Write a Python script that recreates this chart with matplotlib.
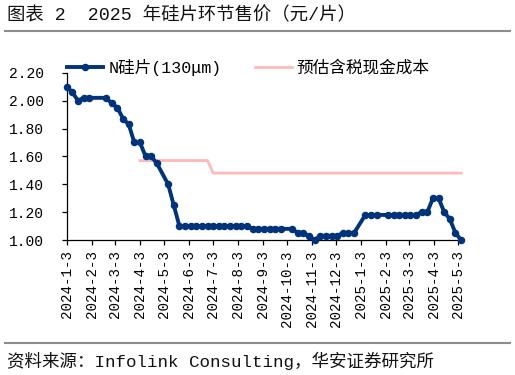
import matplotlib
matplotlib.use("Agg")
import matplotlib.pyplot as plt
from matplotlib.lines import Line2D
import pandas as pd

# ---------------- data ----------------
wafer_dates = [
    "2024-01-03", "2024-01-10", "2024-01-17", "2024-01-24", "2024-01-31",
    "2024-02-21", "2024-02-28", "2024-03-06", "2024-03-13", "2024-03-20",
    "2024-03-27", "2024-04-03", "2024-04-10", "2024-04-17", "2024-04-24",
    "2024-05-08", "2024-05-15", "2024-05-22", "2024-05-29", "2024-06-05",
    "2024-06-12", "2024-06-19", "2024-06-26", "2024-07-03", "2024-07-10",
    "2024-07-17", "2024-07-24", "2024-07-31", "2024-08-07", "2024-08-14",
    "2024-08-21", "2024-08-28", "2024-09-04", "2024-09-11", "2024-09-18",
    "2024-09-25", "2024-10-09", "2024-10-16", "2024-10-23", "2024-10-30",
    "2024-11-06", "2024-11-13", "2024-11-20", "2024-11-27", "2024-12-04",
    "2024-12-11", "2024-12-18", "2024-12-25", "2025-01-08", "2025-01-15",
    "2025-01-22", "2025-02-05", "2025-02-12", "2025-02-19", "2025-02-26",
    "2025-03-05", "2025-03-12", "2025-03-19", "2025-03-26", "2025-04-02",
    "2025-04-09", "2025-04-16", "2025-04-23", "2025-04-30", "2025-05-07",
]
wafer_prices = [
    2.10, 2.06, 2.00, 2.02, 2.02,
    2.02, 1.98, 1.95, 1.87, 1.83,
    1.70, 1.70, 1.60, 1.60, 1.55,
    1.40, 1.25, 1.10, 1.10, 1.10,
    1.10, 1.10, 1.10, 1.10, 1.10,
    1.10, 1.10, 1.10, 1.10, 1.10,
    1.08, 1.08, 1.08, 1.08, 1.08,
    1.08, 1.08, 1.05, 1.05, 1.03,
    1.00, 1.03, 1.03, 1.03, 1.03,
    1.05, 1.05, 1.05, 1.18, 1.18,
    1.18, 1.18, 1.18, 1.18, 1.18,
    1.18, 1.18, 1.20, 1.20, 1.30,
    1.30, 1.20, 1.15, 1.05, 1.00,
]

cost_dates = ["2024-04-03", "2024-06-26", "2024-07-03", "2025-05-07"]
cost_values = [1.57, 1.57, 1.48, 1.48]

tick_dates = [
    "2024-01-03", "2024-02-03", "2024-03-03", "2024-04-03", "2024-05-03",
    "2024-06-03", "2024-07-03", "2024-08-03", "2024-09-03", "2024-10-03",
    "2024-11-03", "2024-12-03", "2025-01-03", "2025-02-03", "2025-03-03",
    "2025-04-03", "2025-05-03",
]
tick_labels = [
    "2024-1-3", "2024-2-3", "2024-3-3", "2024-4-3", "2024-5-3",
    "2024-6-3", "2024-7-3", "2024-8-3", "2024-9-3", "2024-10-3",
    "2024-11-3", "2024-12-3", "2025-1-3", "2025-2-3", "2025-3-3",
    "2025-4-3", "2025-5-3",
]
y_ticks = [1.00, 1.20, 1.40, 1.60, 1.80, 2.00, 2.20]

series_labels = ["N硅片(130μm)", "预估含税现金成本"]
title_text = "图表 2  2025 年硅片环节售价（元/片）"
source_text = "资料来源：Infolink Consulting，华安证券研究所"

# ---------------- style ----------------
FAM = ["Liberation Mono", "Noto Sans CJK SC", "DejaVu Sans"]
plt.rcParams["font.family"] = FAM
BLUE = "#00337A"
PINK = "#FFB9B9"

fig = plt.figure(figsize=(5.15, 3.75), dpi=100)
ax = fig.add_axes([0.1295, 0.36, 0.769, 0.446])

x_w = pd.to_datetime(wafer_dates)
x_c = pd.to_datetime(cost_dates)

ax.plot(x_c, cost_values, color=PINK, lw=2.0, zorder=2,
        label=series_labels[1], clip_on=False)
ax.plot(x_w, wafer_prices, color=BLUE, lw=2.8, marker="o", markersize=4.4,
        zorder=3, label=series_labels[0], clip_on=False)

ax.set_xlim(pd.Timestamp("2024-01-03"), pd.Timestamp("2025-05-09"))
ax.set_ylim(1.0, 2.2)
ax.set_yticks(y_ticks)
ax.set_yticklabels([f"{v:.2f}" for v in y_ticks])
ax.set_xticks(pd.to_datetime(tick_dates))
ax.set_xticklabels(tick_labels, rotation=90, va="top", ha="center")

for s in ["top", "right"]:
    ax.spines[s].set_visible(False)
for s in ["left", "bottom"]:
    ax.spines[s].set_color("black")
    ax.spines[s].set_linewidth(0.9)

ax.tick_params(axis="y", direction="out", length=3.5, width=0.9, pad=13,
               labelsize=10.5, colors="black")
ax.tick_params(axis="x", direction="out", length=3.5, width=0.9, pad=4,
               labelsize=10.2, colors="black")

handles, labels = ax.get_legend_handles_labels()
order = [1, 0]
leg = ax.legend([handles[i] for i in order], [labels[i] for i in order],
                loc="center left", bbox_to_anchor=(0.0, 1.034), ncol=2,
                frameon=False, borderaxespad=0, borderpad=0,
                handlelength=2.2, handletextpad=0.3, columnspacing=2.0,
                numpoints=1, prop={"family": FAM, "size": 12})

# title and rules
fig.text(0.014, 0.958, title_text, fontsize=13.2, ha="left", va="center",
         family=FAM, color="#111111")
fig.add_artist(Line2D([0.01, 0.99], [0.917, 0.917], transform=fig.transFigure,
                      color="#8C8C8C", lw=1.5))
fig.add_artist(Line2D([0.01, 0.99], [0.085, 0.085], transform=fig.transFigure,
                      color="#8C8C8C", lw=1.5))
fig.text(0.014, 0.037, source_text, fontsize=12.6, ha="left", va="center",
         family=FAM, color="#111111")

fig.savefig("out.png", dpi=100)
